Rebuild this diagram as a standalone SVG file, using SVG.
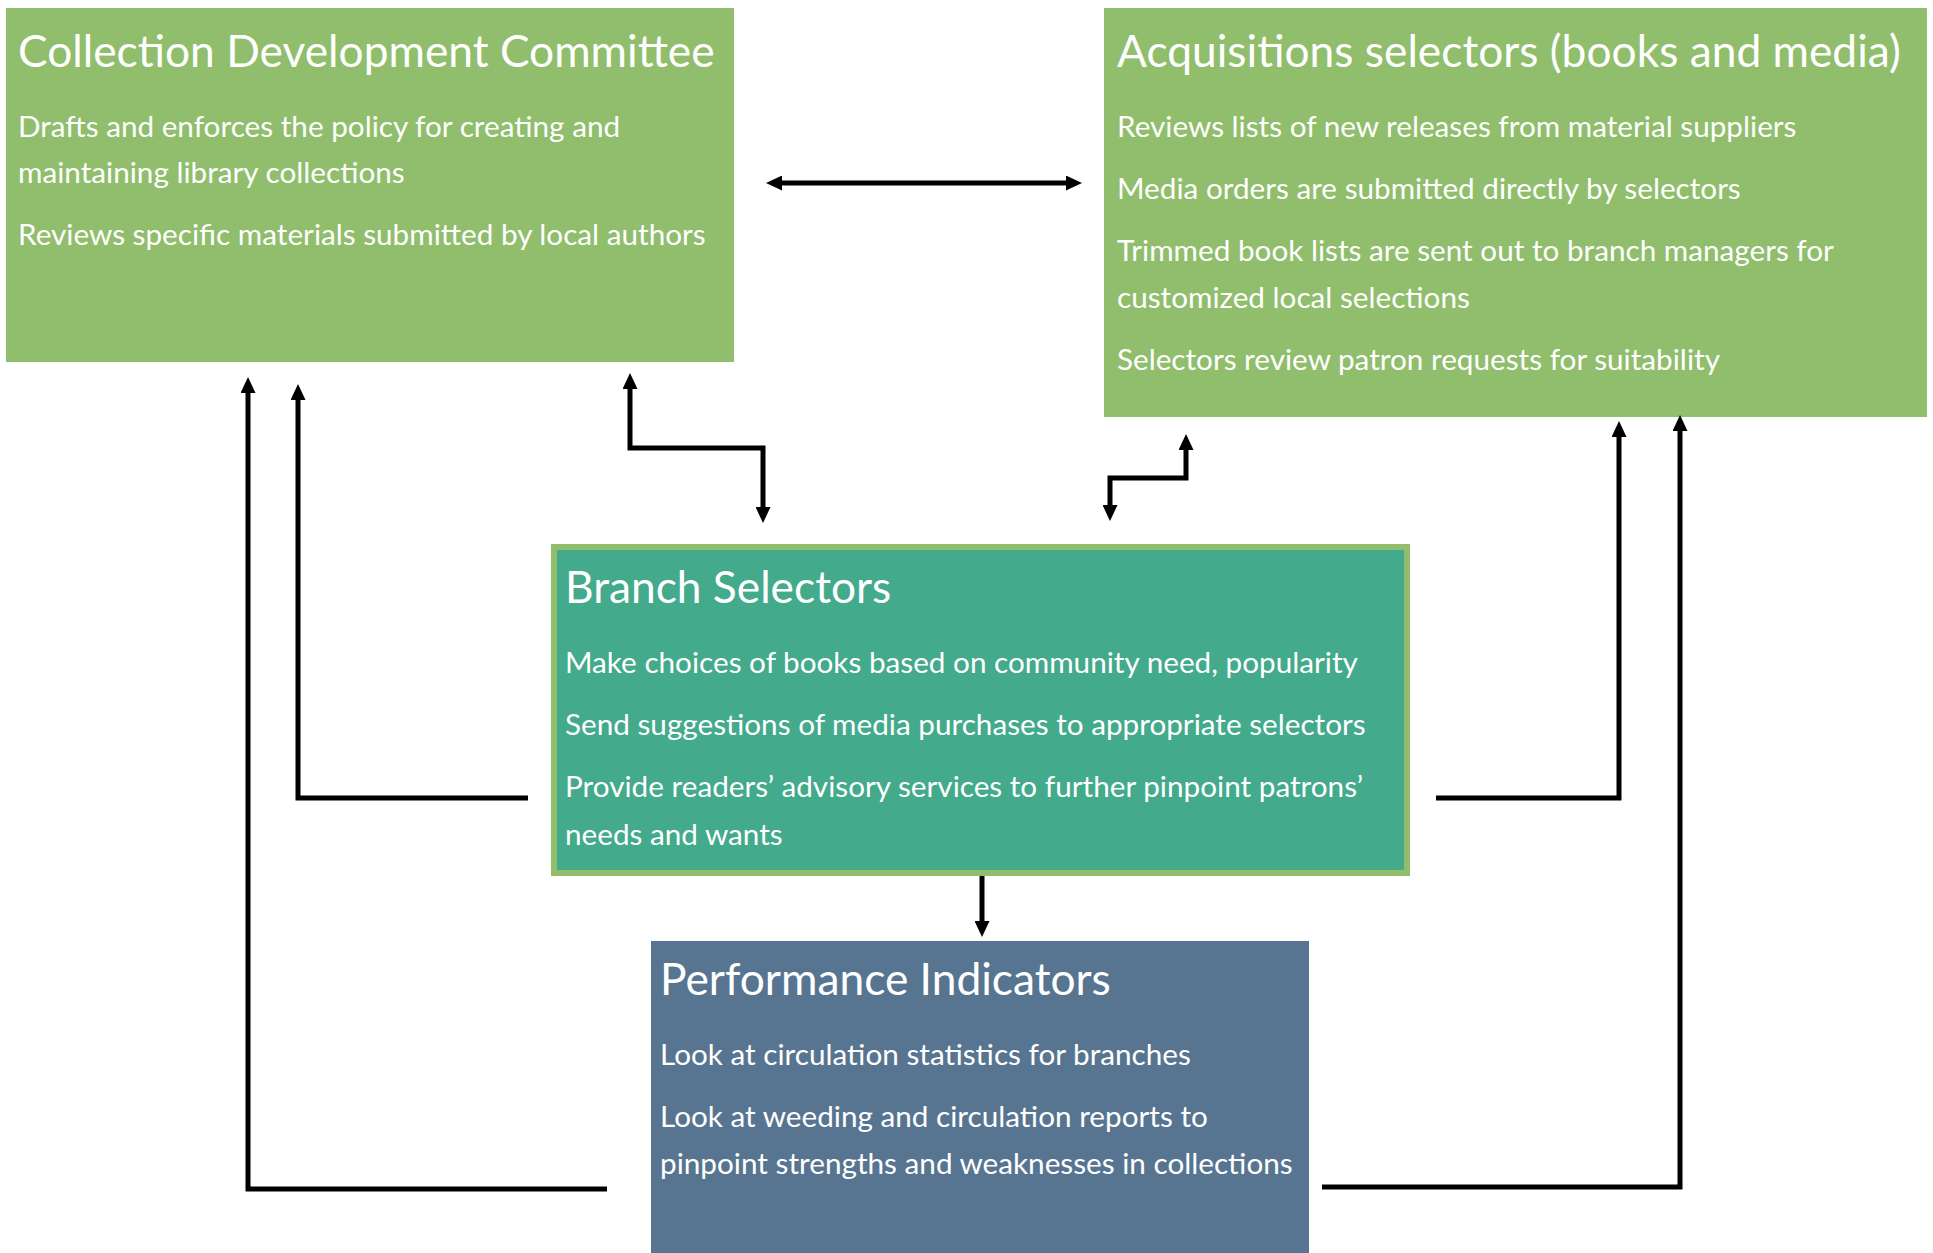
<svg xmlns="http://www.w3.org/2000/svg" width="1933" height="1253" viewBox="0 0 1933 1253">
<style>
.t{font-family:Lato,"Open Sans","Liberation Sans",sans-serif;fill:#ffffff;font-size:44.3px}
.b{font-family:Lato,"Open Sans","Liberation Sans",sans-serif;fill:#ffffff;font-size:29.7px}
.c{fill:none;stroke:#000;stroke-width:5;stroke-linejoin:miter}
.ca{marker-end:url(#ah)}
.cb{marker-start:url(#ah);marker-end:url(#ah)}
</style>
<defs>
<marker id="ah" markerUnits="userSpaceOnUse" markerWidth="16" markerHeight="15" refX="10" refY="7.5" orient="auto-start-reverse" viewBox="0 0 16 15">
<path d="M0,0 L16,7.5 L0,15 z" fill="#000"/>
</marker>
</defs>
<rect width="1933" height="1253" fill="#ffffff"/>
<g id="cdc">
<rect x="6" y="8" width="728" height="354" fill="#90BE6D"/>
<text class="t" x="18" y="67">Collection Development Committee</text>
<text class="b" x="18" y="137">Drafts and enforces the policy for creating and</text>
<text class="b" x="18" y="183">maintaining library collections</text>
<text class="b" x="18" y="245">Reviews specific materials submitted by local authors</text>
</g>
<g id="acq">
<rect x="1104" y="8" width="823" height="409" fill="#90BE6D"/>
<text class="t" x="1117" y="67">Acquisitions selectors (books and media)</text>
<text class="b" x="1117" y="137">Reviews lists of new releases from material suppliers</text>
<text class="b" x="1117" y="199">Media orders are submitted directly by selectors</text>
<text class="b" x="1117" y="261">Trimmed book lists are sent out to branch managers for</text>
<text class="b" x="1117" y="308">customized local selections</text>
<text class="b" x="1117" y="370">Selectors review patron requests for suitability</text>
</g>
<g id="branch">
<rect x="554" y="547" width="853" height="326" fill="#43AA8B" stroke="#90BE6D" stroke-width="6"/>
<text class="t" x="565" y="603">Branch Selectors</text>
<text class="b" x="565" y="673">Make choices of books based on community need, popularity</text>
<text class="b" x="565" y="735">Send suggestions of media purchases to appropriate selectors</text>
<text class="b" x="565" y="797">Provide readers’ advisory services to further pinpoint patrons’</text>
<text class="b" x="565" y="845">needs and wants</text>
</g>
<g id="perf">
<rect x="651" y="941" width="658" height="312" fill="#577590"/>
<text class="t" x="660" y="995">Performance Indicators</text>
<text class="b" x="660" y="1065">Look at circulation statistics for branches</text>
<text class="b" x="660" y="1127">Look at weeding and circulation reports to</text>
<text class="b" x="660" y="1174">pinpoint strengths and weaknesses in collections</text>
</g>
<g id="connectors">
<path class="c cb" d="M772,183 H1076"/>
<path class="c cb" d="M630,379 V448 H763 V517"/>
<path class="c cb" d="M1186,440 V478 H1110 V515"/>
<path class="c ca" d="M528,798 H298 V390"/>
<path class="c ca" d="M607,1189 H248 V383"/>
<path class="c ca" d="M1436,798 H1619 V427"/>
<path class="c ca" d="M1322,1187 H1680 V421"/>
<path class="c ca" d="M982,876 V931"/>
</g>
</svg>
